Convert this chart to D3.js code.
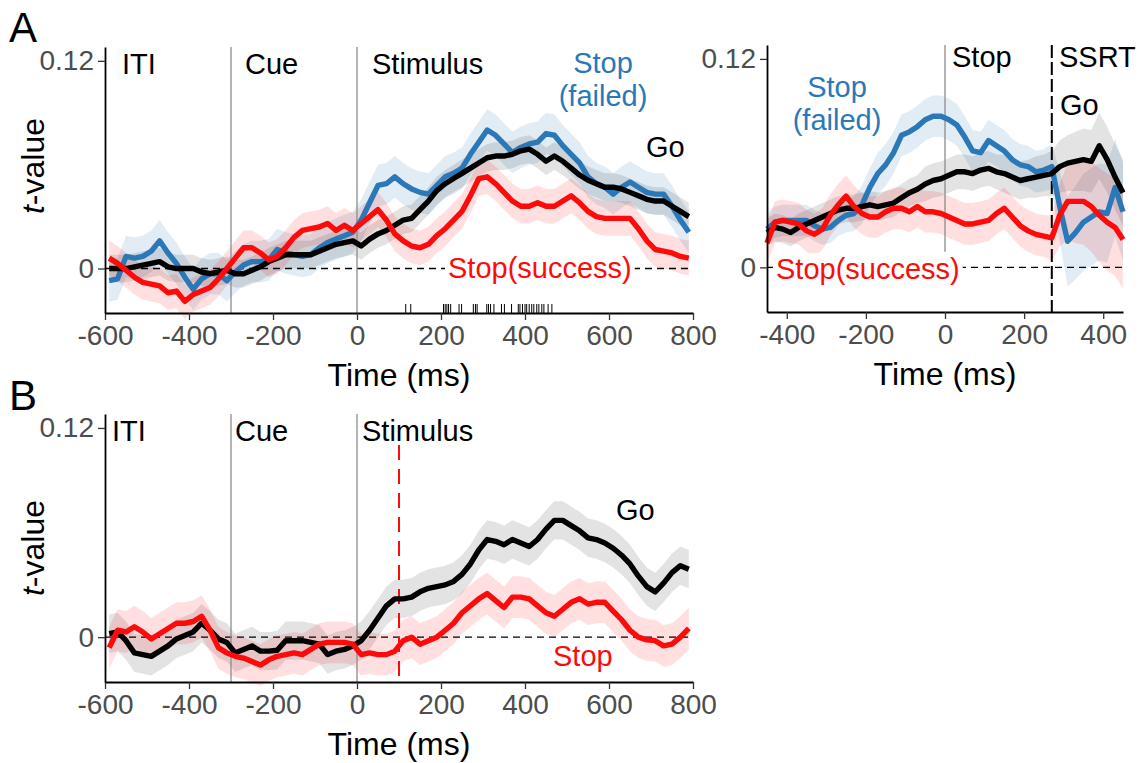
<!DOCTYPE html>
<html>
<head>
<meta charset="utf-8">
<script src="https://cdn.jsdelivr.net/npm/d3@7"></script>
<style>
  body { margin: 0; background: #fff; }
  svg text { font-family: "Liberation Sans", Arial, Helvetica, sans-serif; }
</style>
</head>
<body>
<svg id="fig" width="1143" height="763"></svg>
<script>
// ---- data ----
// panel A (left) and panel B share the same sample times (ms, relative to stimulus)
var timesLong = [
  -590, -570, -550, -530, -510, -490, -470, -450, -430, -410,
  -390, -370, -350, -330, -310, -290, -270, -250, -230, -210,
  -190, -170, -150, -130, -110, -90, -70, -50, -30, -10,
  10, 30, 50, 70, 90, 110, 130, 150, 170, 190,
  210, 230, 250, 270, 290, 310, 330, 350, 370, 390,
  410, 430, 450, 470, 490, 510, 530, 550, 570, 590,
  610, 630, 650, 670, 690, 710, 730, 750, 770, 790
];
// panel A right, times relative to stop signal
var timesStop = [
  -450, -430, -410, -390, -370, -350, -330, -310, -290, -270,
  -250, -230, -210, -190, -170, -150, -130, -110, -90, -70,
  -50, -30, -10, 10, 30, 50, 70, 90, 110, 130,
  150, 170, 190, 210, 230, 250, 270, 290, 310, 330,
  350, 370, 390, 410, 430, 450
];

var goA = [
  0.000, 0.000, 0.000, 0.001, 0.002, 0.003, 0.004, 0.001, 0.000, 0.000,
  0.000, -0.002, -0.003, -0.002, -0.001, -0.003, -0.003, -0.001, 0.001, 0.004,
  0.006, 0.008, 0.008, 0.008, 0.008, 0.010, 0.012, 0.014, 0.015, 0.016,
  0.013, 0.017, 0.020, 0.022, 0.025, 0.028, 0.029, 0.034, 0.039, 0.045,
  0.049, 0.052, 0.055, 0.058, 0.061, 0.064, 0.065, 0.065, 0.066, 0.068,
  0.069, 0.066, 0.062, 0.065, 0.062, 0.058, 0.054, 0.051, 0.049, 0.047,
  0.047, 0.046, 0.044, 0.042, 0.040, 0.039, 0.039, 0.036, 0.033, 0.030
];
var failedA = [
  -0.007, -0.006, 0.007, 0.006, 0.007, 0.010, 0.016, 0.009, 0.003, -0.005,
  -0.012, -0.006, -0.003, -0.003, -0.007, -0.002, 0.002, 0.004, 0.004, 0.005,
  0.011, 0.009, 0.008, 0.007, 0.008, 0.012, 0.015, 0.017, 0.019, 0.021,
  0.028, 0.038, 0.048, 0.049, 0.053, 0.049, 0.046, 0.044, 0.043, 0.048,
  0.053, 0.055, 0.058, 0.066, 0.073, 0.080, 0.077, 0.072, 0.067, 0.070,
  0.072, 0.073, 0.078, 0.077, 0.071, 0.066, 0.061, 0.053, 0.049, 0.047,
  0.043, 0.047, 0.050, 0.047, 0.044, 0.043, 0.043, 0.036, 0.028, 0.021
];
var successA = [
  0.006, 0.003, -0.001, -0.005, -0.008, -0.009, -0.010, -0.014, -0.013, -0.019,
  -0.015, -0.013, -0.011, -0.006, 0.000, 0.006, 0.012, 0.012, 0.009, 0.005,
  0.007, 0.012, 0.018, 0.022, 0.023, 0.024, 0.026, 0.022, 0.025, 0.022,
  0.026, 0.030, 0.034, 0.028, 0.020, 0.016, 0.013, 0.012, 0.014, 0.019,
  0.023, 0.028, 0.033, 0.042, 0.052, 0.053, 0.049, 0.044, 0.039, 0.036,
  0.036, 0.038, 0.036, 0.036, 0.039, 0.042, 0.038, 0.033, 0.030, 0.029,
  0.029, 0.029, 0.029, 0.023, 0.016, 0.011, 0.010, 0.009, 0.007, 0.006
];
// half widths of the shaded bands (single value = same all along)
var semGoA = 0.008, semFailedA = 0.012, semSuccessA = 0.010;

var goR = [
  0.020, 0.023, 0.022, 0.020, 0.023, 0.025, 0.027, 0.029, 0.031, 0.033,
  0.034, 0.034, 0.035, 0.036, 0.035, 0.036, 0.037, 0.040, 0.043, 0.045,
  0.048, 0.050, 0.051, 0.053, 0.055, 0.055, 0.054, 0.056, 0.057, 0.055,
  0.054, 0.052, 0.050, 0.051, 0.052, 0.053, 0.054, 0.058, 0.060, 0.061,
  0.062, 0.061, 0.070, 0.062, 0.052, 0.043
];
var failedR = [
  0.022, 0.026, 0.027, 0.027, 0.027, 0.027, 0.024, 0.022, 0.023, 0.027,
  0.030, 0.031, 0.036, 0.046, 0.054, 0.059, 0.066, 0.076, 0.078, 0.081,
  0.085, 0.087, 0.087, 0.085, 0.082, 0.075, 0.067, 0.066, 0.073, 0.070,
  0.067, 0.062, 0.059, 0.058, 0.055, 0.056, 0.058, 0.035, 0.015, 0.020,
  0.026, 0.029, 0.032, 0.031, 0.046, 0.032
];
var successR = [
  0.014, 0.026, 0.027, 0.026, 0.025, 0.021, 0.019, 0.022, 0.030, 0.036,
  0.041, 0.035, 0.031, 0.029, 0.029, 0.032, 0.034, 0.034, 0.032, 0.035,
  0.032, 0.032, 0.031, 0.029, 0.027, 0.025, 0.025, 0.026, 0.027, 0.031,
  0.034, 0.029, 0.024, 0.021, 0.019, 0.018, 0.017, 0.030, 0.038, 0.038,
  0.038, 0.035, 0.030, 0.026, 0.023, 0.016
];
var semGoR = [
  0.008, 0.008, 0.008, 0.008, 0.008, 0.008, 0.008, 0.008, 0.008, 0.008,
  0.008, 0.008, 0.008, 0.008, 0.008, 0.008, 0.008, 0.008, 0.008, 0.008,
  0.010, 0.010, 0.010, 0.010, 0.010, 0.010, 0.010, 0.010, 0.010, 0.010,
  0.011, 0.011, 0.011, 0.011, 0.012, 0.012, 0.013, 0.015, 0.016, 0.017,
  0.018, 0.018, 0.019, 0.019, 0.019, 0.019
];
var semFailedR = [
  0.009, 0.009, 0.009, 0.009, 0.009, 0.009, 0.009, 0.009, 0.009, 0.009,
  0.010, 0.010, 0.011, 0.011, 0.012, 0.012, 0.012, 0.012, 0.012, 0.012,
  0.012, 0.012, 0.012, 0.012, 0.012, 0.012, 0.012, 0.012, 0.012, 0.012,
  0.012, 0.012, 0.012, 0.012, 0.012, 0.012, 0.013, 0.020, 0.026, 0.027,
  0.028, 0.028, 0.028, 0.028, 0.028, 0.028
];
var semSuccessR = [
  0.012, 0.012, 0.012, 0.012, 0.012, 0.012, 0.012, 0.012, 0.012, 0.012,
  0.012, 0.012, 0.012, 0.012, 0.012, 0.012, 0.012, 0.012, 0.012, 0.012,
  0.012, 0.012, 0.012, 0.012, 0.012, 0.012, 0.012, 0.012, 0.012, 0.012,
  0.012, 0.012, 0.012, 0.012, 0.012, 0.012, 0.013, 0.018, 0.022, 0.024,
  0.025, 0.026, 0.027, 0.028, 0.028, 0.028
];

var goB = [
  0.002, 0.003, -0.002, -0.009, -0.010, -0.011, -0.008, -0.005, -0.001, 0.001,
  0.003, 0.008, 0.004, -0.001, -0.003, -0.009, -0.007, -0.005, -0.008, -0.008,
  -0.0075, -0.002, -0.002, -0.002, -0.003, -0.004, -0.010, -0.008, -0.007, -0.005,
  -0.002, 0.004, 0.011, 0.018, 0.022, 0.022, 0.023, 0.026, 0.028, 0.029,
  0.030, 0.032, 0.036, 0.042, 0.050, 0.056, 0.055, 0.053, 0.056, 0.054,
  0.052, 0.056, 0.062, 0.067, 0.067, 0.064, 0.061, 0.057, 0.056, 0.054,
  0.051, 0.047, 0.042, 0.035, 0.029, 0.026, 0.031, 0.037, 0.041, 0.039
];
var stopB = [
  -0.006, 0.004, 0.003, 0.006, 0.003, -0.001, 0.002, 0.005, 0.008, 0.008,
  0.009, 0.012, 0.004, -0.006, -0.009, -0.011, -0.012, -0.014, -0.016, -0.013,
  -0.011, -0.010, -0.009, -0.010, -0.007, -0.004, -0.003, -0.003, -0.003, -0.004,
  -0.010, -0.009, -0.010, -0.010, -0.008, -0.002, 0.000, -0.004, -0.002, 0.000,
  0.004, 0.008, 0.014, 0.018, 0.022, 0.025, 0.021, 0.017, 0.023, 0.023,
  0.022, 0.018, 0.014, 0.012, 0.016, 0.020, 0.022, 0.019, 0.020, 0.020,
  0.015, 0.010, 0.004, 0.000, -0.0015, -0.002, -0.005, -0.004, 0.000, 0.005
];
var semGoB = 0.011, semStopB = 0.012;

// stop-signal delays marked along the bottom of panel A (ms)
var ssdTicks = [116, 128, 206, 210, 214, 218, 223, 243, 249, 277, 282, 286, 309, 313, 318, 326,
  344, 351, 368, 384, 388, 394, 400, 404, 410, 416, 421, 428, 433, 440, 445, 455, 464];

var ticksLong = [-600, -400, -200, 0, 200, 400, 600, 800];
var ticksStop = [-400, -200, 0, 200, 400];
var ticksY = [0, 0.12];
var yDomain = [-0.0257, 0.128];

var BLACK = '#000000', BLUE = '#2a78b8', RED = '#ff0a0a';

// ---- drawing ----
var svg = d3.select('#fig');

function drawPanel(p) {
  var x = d3.scaleLinear().domain(p.xDomain).range([p.left, p.right]);
  var y = d3.scaleLinear().domain(yDomain).range([p.bottom, p.top]);
  var g = svg.append('g');
  var gBand = g.append('g'), gRef = g.append('g'), gBg = g.append('g'),
      gLine = g.append('g'), gText = g.append('g');

  p.series.forEach(function(s) {
    var pts = p.times.map(function(t, i) {
      var e = Array.isArray(s.sem) ? s.sem[i] : s.sem;
      return { t: t, v: s.values[i], lo: s.values[i] - e, hi: s.values[i] + e };
    });
    gBand.append('path').datum(pts)
      .attr('fill', s.color).attr('fill-opacity', s.bandOpacity)
      .attr('d', d3.area().x(function(d) { return x(d.t); })
        .y0(function(d) { return y(d.lo); }).y1(function(d) { return y(d.hi); }));
    s.pts = pts;
  });

  // zero line
  gRef.append('line')
    .attr('x1', p.left).attr('x2', p.right)
    .attr('y1', y(0)).attr('y2', y(0))
    .attr('stroke', '#000').attr('stroke-width', 1.3).attr('stroke-dasharray', '7,5');

  (p.events || []).forEach(function(ev) {
    gRef.append('line')
      .attr('x1', x(ev.t)).attr('x2', x(ev.t))
      .attr('y1', ev.y1 != null ? ev.y1 : p.top)
      .attr('y2', ev.y2v != null ? y(ev.y2v) : p.bottom)
      .attr('stroke', ev.color).attr('stroke-width', ev.width)
      .attr('stroke-dasharray', ev.dash || null);
  });

  (p.rug || []).forEach(function(t) {
    gRef.append('line')
      .attr('x1', x(t)).attr('x2', x(t))
      .attr('y1', p.bottom - 9).attr('y2', p.bottom)
      .attr('stroke', '#000').attr('stroke-width', 1);
  });

  p.series.forEach(function(s) {
    gLine.append('path').datum(s.pts)
      .attr('fill', 'none').attr('stroke', s.color).attr('stroke-width', 5.4)
      .attr('stroke-linejoin', 'round')
      .attr('d', d3.line().x(function(d) { return x(d.t); }).y(function(d) { return y(d.v); }));
  });

  // axes
  var ax = g.append('g').attr('transform', 'translate(0,' + p.bottom + ')')
    .call(d3.axisBottom(x).tickValues(p.xTicks).tickSize(7).tickSizeOuter(0).tickPadding(5)
      .tickFormat(function(d) { return String(d); }));
  var ay = g.append('g').attr('transform', 'translate(' + p.left + ',0)')
    .call(d3.axisLeft(y).tickValues(ticksY).tickSize(7).tickSizeOuter(0).tickPadding(4)
      .tickFormat(function(d) { return d === 0 ? '0' : '0.12'; }));
  [ax, ay].forEach(function(a) {
    a.attr('font-family', null).attr('font-size', null);
    a.select('.domain').attr('stroke', '#000').attr('stroke-width', 1.8);
    a.selectAll('.tick line').attr('stroke', '#333').attr('stroke-width', 1.3);
    a.selectAll('.tick text').attr('fill', '#4d4d4d').style('font-size', '28px');
  });

  g.append('text').attr('x', (p.left + p.right) / 2).attr('y', p.bottom + 73)
    .attr('text-anchor', 'middle').style('font-size', '32px').text('Time (ms)');

  if (p.yTitle) {
    var yt = g.append('text')
      .attr('transform', 'translate(' + p.yTitle.x + ',' + p.yTitle.y + ') rotate(-90)')
      .attr('text-anchor', 'middle').style('font-size', '32px');
    yt.append('tspan').style('font-style', 'italic').text('t');
    yt.append('tspan').text('-value');
  }

  p.labels.forEach(function(l) {
    var t = gText.append('text').attr('x', l.x).attr('y', l.y)
      .attr('text-anchor', l.anchor || 'start').attr('fill', l.color || '#000')
      .style('font-size', (l.size || 29) + 'px').text(l.text);
    if (l.bg) {
      var b = t.node().getBBox();
      gBg.append('rect').attr('x', b.x - 3).attr('y', b.y)
        .attr('width', b.width + 6).attr('height', b.height).attr('fill', '#fff');
    }
  });
}

drawPanel({
  left: 105, right: 693, top: 47, bottom: 313,
  xDomain: [-600, 800], xTicks: ticksLong, times: timesLong,
  series: [
    { values: failedA, sem: semFailedA, color: BLUE, bandOpacity: 0.14 },
    { values: goA, sem: semGoA, color: BLACK, bandOpacity: 0.11 },
    { values: successA, sem: semSuccessA, color: RED, bandOpacity: 0.13 }
  ],
  events: [
    { t: -300, color: '#8c8c8c', width: 1.3 },
    { t: 0, color: '#8c8c8c', width: 1.3 }
  ],
  rug: ssdTicks,
  yTitle: { x: 44, y: 166 },
  labels: [
    { text: 'ITI', x: 122, y: 74 },
    { text: 'Cue', x: 245, y: 74 },
    { text: 'Stimulus', x: 372, y: 74 },
    { text: 'Stop', x: 603, y: 73, anchor: 'middle', color: BLUE },
    { text: '(failed)', x: 603, y: 106, anchor: 'middle', color: BLUE },
    { text: 'Go', x: 646, y: 157 },
    { text: 'Stop(success)', x: 448, y: 278, color: RED, bg: true }
  ]
});

drawPanel({
  left: 767, right: 1123, top: 45, bottom: 312,
  xDomain: [-450, 450], xTicks: ticksStop, times: timesStop,
  series: [
    { values: failedR, sem: semFailedR, color: BLUE, bandOpacity: 0.14 },
    { values: goR, sem: semGoR, color: BLACK, bandOpacity: 0.11 },
    { values: successR, sem: semSuccessR, color: RED, bandOpacity: 0.13 }
  ],
  events: [
    { t: 0, color: '#8c8c8c', width: 1.3, y2v: 0.009 },
    { t: 270, color: '#000', width: 2, dash: '13,4' }
  ],
  labels: [
    { text: 'Stop', x: 952, y: 67 },
    { text: 'SSRT', x: 1059, y: 67 },
    { text: 'Go', x: 1060, y: 115 },
    { text: 'Stop', x: 837, y: 97, anchor: 'middle', color: BLUE },
    { text: '(failed)', x: 837, y: 130, anchor: 'middle', color: BLUE },
    { text: 'Stop(success)', x: 776, y: 279, color: RED, bg: true }
  ]
});

drawPanel({
  left: 105, right: 693, top: 414, bottom: 682,
  xDomain: [-600, 800], xTicks: ticksLong, times: timesLong,
  series: [
    { values: goB, sem: semGoB, color: BLACK, bandOpacity: 0.11 },
    { values: stopB, sem: semStopB, color: RED, bandOpacity: 0.13 }
  ],
  events: [
    { t: -300, color: '#8c8c8c', width: 1.3 },
    { t: 0, color: '#8c8c8c', width: 1.3 },
    { t: 100, color: RED, width: 2, dash: '15,9', y1: 445 }
  ],
  yTitle: { x: 44, y: 548 },
  labels: [
    { text: 'ITI', x: 112, y: 441 },
    { text: 'Cue', x: 235, y: 441 },
    { text: 'Stimulus', x: 362, y: 441 },
    { text: 'Go', x: 616, y: 520 },
    { text: 'Stop', x: 553, y: 666, color: RED }
  ]
});

svg.append('text').attr('x', 9).attr('y', 42).style('font-size', '42px').text('A');
svg.append('text').attr('x', 9).attr('y', 410).style('font-size', '42px').text('B');
</script>
</body>
</html>
